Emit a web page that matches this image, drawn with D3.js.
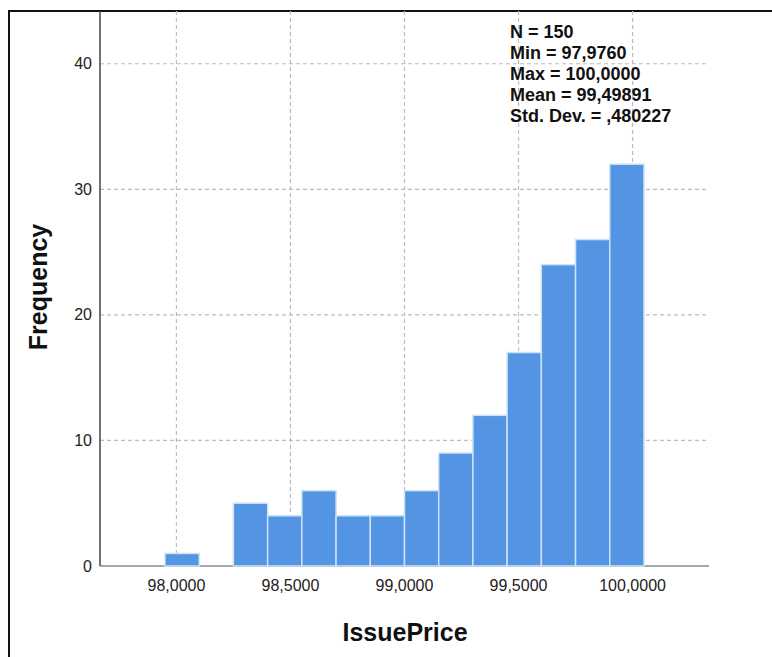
<!DOCTYPE html>
<html>
<head>
<meta charset="utf-8">
<script src="https://cdn.jsdelivr.net/npm/d3@7"></script>
<style>
  body { margin: 0; background: #fff; }
  svg { display: block; font-family: "Liberation Sans", Arial, sans-serif; }
</style>
</head>
<body>
<script>
// Histogram bins (lower edges) and counts
let binStarts = [97.95, 98.10, 98.25, 98.40, 98.55, 98.70, 98.85, 99.00, 99.15, 99.30, 99.45, 99.60, 99.75, 99.90];
let binWidth = 0.15;
let counts = [1, 0, 5, 4, 6, 4, 4, 6, 9, 12, 17, 24, 26, 32];

// Axis ticks
let xTicks = [98.0, 98.5, 99.0, 99.5, 100.0];
let yTicks = [0, 10, 20, 30, 40];

// Summary statistics box
let statLines = ["N = 150", "Min = 97,9760", "Max = 100,0000", "Mean = 99,49891", "Std. Dev. = ,480227"];

let width = 772, height = 657;

let svg = d3.select("body").append("svg")
    .attr("width", width)
    .attr("height", height);

// Outer frame (runs off the right and bottom edges)
svg.append("rect")
    .attr("x", 9).attr("y", 11)
    .attr("width", 800).attr("height", 700)
    .attr("fill", "none")
    .attr("stroke", "#111")
    .attr("stroke-width", 2);

let x = d3.scaleLinear().domain([97.665, 100.335]).range([100, 709]);
let y = d3.scaleLinear().domain([0, 44.2]).range([566, 11]);

let fmtX = d => d3.format(".4f")(d).replace(".", ",");

// Gridlines
let grid = svg.append("g")
    .attr("stroke", "#bdbdbd")
    .attr("stroke-width", 1.2)
    .attr("stroke-dasharray", "4,3");

grid.selectAll(".hgrid")
    .data(yTicks.filter(d => d > 0))
    .enter().append("line")
    .attr("x1", x.range()[0]).attr("x2", x.range()[1])
    .attr("y1", d => y(d)).attr("y2", d => y(d));

grid.selectAll(".vgrid")
    .data(xTicks)
    .enter().append("line")
    .attr("x1", d => x(d)).attr("x2", d => x(d))
    .attr("y1", y.range()[1]).attr("y2", y(0));

// Baseline
svg.append("line")
    .attr("x1", x.range()[0]).attr("x2", x.range()[1])
    .attr("y1", y(0)).attr("y2", y(0))
    .attr("stroke", "#8a8a8a")
    .attr("stroke-width", 1.6);

// Bars
svg.selectAll(".bar")
    .data(counts.map((c, i) => ({ x0: binStarts[i], x1: binStarts[i] + binWidth, c: c })).filter(d => d.c > 0))
    .enter().append("rect")
    .attr("class", "bar")
    .attr("x", d => x(d.x0))
    .attr("width", d => x(d.x1) - x(d.x0))
    .attr("y", d => y(d.c))
    .attr("height", d => y(0) - y(d.c))
    .attr("fill", "#5394e3")
    .attr("stroke", "#cde1f7")
    .attr("stroke-width", 1.5);

// Y axis line
svg.append("line")
    .attr("x1", 100).attr("x2", 100)
    .attr("y1", y.range()[1]).attr("y2", y(0))
    .attr("stroke", "#444")
    .attr("stroke-width", 1.5);

// Tick labels
svg.selectAll(".ylab")
    .data(yTicks)
    .enter().append("text")
    .attr("x", 92)
    .attr("y", d => y(d))
    .attr("dy", "0.35em")
    .attr("text-anchor", "end")
    .attr("font-size", 16)
    .attr("fill", "#222")
    .text(d => d);

svg.selectAll(".xlab")
    .data(xTicks)
    .enter().append("text")
    .attr("x", d => x(d))
    .attr("y", 591)
    .attr("text-anchor", "middle")
    .attr("font-size", 16)
    .attr("fill", "#222")
    .text(fmtX);

// Axis titles
svg.append("text")
    .attr("transform", "translate(47,287) rotate(-90)")
    .attr("text-anchor", "middle")
    .attr("font-size", 25)
    .attr("font-weight", "bold")
    .attr("fill", "#111")
    .text("Frequency");

svg.append("text")
    .attr("x", 405)
    .attr("y", 641)
    .attr("text-anchor", "middle")
    .attr("font-size", 25)
    .attr("font-weight", "bold")
    .attr("fill", "#111")
    .text("IssuePrice");

// Stats box
svg.selectAll(".stat")
    .data(statLines)
    .enter().append("text")
    .attr("x", 510)
    .attr("y", (d, i) => 38 + i * 21)
    .attr("font-size", 18)
    .attr("font-weight", "bold")
    .attr("fill", "#111")
    .text(d => d);
</script>
</body>
</html>
